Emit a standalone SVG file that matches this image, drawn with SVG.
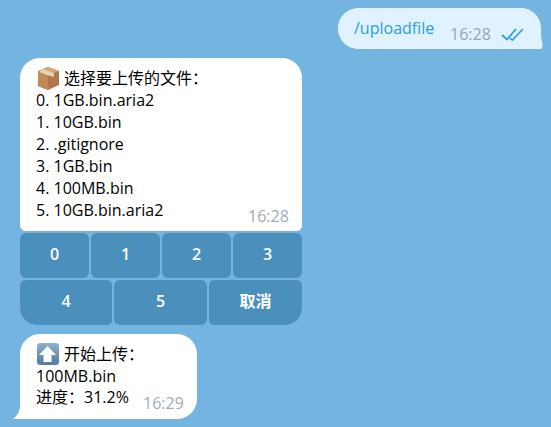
<svg xmlns="http://www.w3.org/2000/svg" width="551" height="427" viewBox="0 0 551 427">
<style>
text{font-family:"Open Sans","Noto Sans CJK SC",sans-serif}
.m{font-size:16px;fill:#000}
.t{font-size:16px;fill:#a0acba}
.b{fill:#4b90bd}
.l{font-size:16px;font-weight:600;fill:#fff;text-anchor:middle}
</style>
<defs><linearGradient id="ag" x1="0" y1="0" x2="0" y2="1"><stop offset="0" stop-color="#8fb0cf"/><stop offset="1" stop-color="#557a9f"/></linearGradient></defs>
<rect width="551" height="427" fill="#74b4e0"/>
<g id="sent">
<path d="M359 8H521C532 8 541 17 541 28V36C541 42 544 46 541 49H359C347 49 338 40 338 28.500C338 17 347 8 359 8Z" fill="#e0f1ff"/>
<path d="M541 36C541.500 42 544 46 541 49H535Z" fill="#e0f1ff"/>
<text x="354" y="34" style="font-size:16px;fill:#2a9fdc">/uploadfile</text>
<text class="t" x="450" y="40" style="fill:#8fa6bb">16:28</text>
<path d="M502 35L507 39.500L516 29M510 38.500L512.500 40L523 29" fill="none" stroke="#2a9fdc" stroke-width="1.700"/>
</g>
<g id="file-list">
<path d="M40 58H282C293 58 302 67 302 78V225C302 229 299 231 296 231H26C23 231 20 229 20 225V78C20 67 29 58 40 58Z" fill="#fff"/>
<g id="box-emoji">
<path d="M48 67L59 71V85L48 90L38 86V71Z" fill="#b0784a"/>
<path d="M38 71L48 67L59 71L48 75Z" fill="#d5a576"/>
<path d="M48 75V90L38 86V71Z" fill="#c08a58"/>
<path d="M43 69L54 73V77L50 76L39 72Z" fill="#e8d3b0"/>
</g>
<text class="m" x="64" y="84">选择要上传的文件：</text>
<text class="m" x="36" y="106">0. 1GB.bin.aria2</text>
<text class="m" x="36" y="128">1. 10GB.bin</text>
<text class="m" x="36" y="150">2. .gitignore</text>
<text class="m" x="36" y="172">3. 1GB.bin</text>
<text class="m" x="36" y="194">4. 100MB.bin</text>
<text class="m" x="36" y="216">5. 10GB.bin.aria2</text>
<text class="t" x="248" y="222">16:28</text>
</g>
<g id="btn-0"><rect class="b" x="20" y="233" width="69" height="45" rx="6"/><text class="l" x="54.500" y="260">0</text></g>
<g id="btn-1"><rect class="b" x="91" y="233" width="69" height="45" rx="6"/><text class="l" x="125.500" y="260">1</text></g>
<g id="btn-2"><rect class="b" x="162" y="233" width="69" height="45" rx="6"/><text class="l" x="196.500" y="260">2</text></g>
<g id="btn-3"><rect class="b" x="233" y="233" width="69" height="45" rx="6"/><text class="l" x="267.500" y="260">3</text></g>
<g id="btn-4"><path class="b" d="M26 280H106Q112 280 112 286V319Q112 325 106 325H40Q20 325 20 305V286Q20 280 26 280Z"/><text class="l" x="66" y="307">4</text></g>
<g id="btn-5"><rect class="b" x="114" y="280" width="93" height="45" rx="6"/><text class="l" x="160.500" y="307">5</text></g>
<g id="btn-cancel"><path class="b" d="M215 280H296Q302 280 302 286V305Q302 325 282 325H215Q209 325 209 319V286Q209 280 215 280Z"/><text class="l" x="255.500" y="307">取消</text></g>
<g id="progress">
<path d="M40 334H177C188 334 197 343 197 354V399C197 410 188 419 177 419H13C17 416 20 412 20 405V354C20 343 29 334 40 334Z" fill="#fff"/>
<g id="arrow-emoji">
<rect x="37" y="343" width="22" height="22" rx="3.500" fill="url(#ag)"/>
<path d="M47.500 346L56 355H51.500V362H43.500V355H39Z" fill="#fff"/>
</g>
<text class="m" x="64" y="360">开始上传：</text>
<text class="m" x="36" y="382">100MB.bin</text>
<text class="m" x="36" y="403">进度：31.2%</text>
<text class="t" x="143" y="409">16:29</text>
</g>
</svg>
